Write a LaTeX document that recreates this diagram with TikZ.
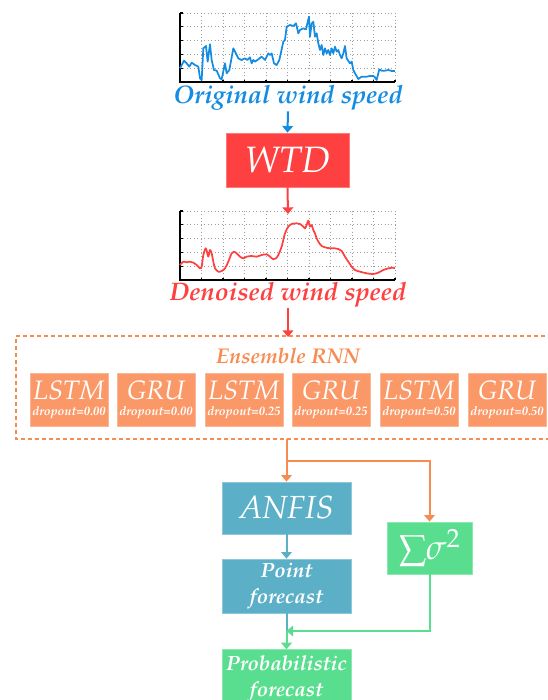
\documentclass[tikz,border=0pt]{standalone}
\usepackage[T1]{fontenc}
\usepackage{mathpazo}
\usepackage{tikz}
\usetikzlibrary{arrows.meta}

\definecolor{windblue}{RGB}{20,140,225}
\definecolor{wtdred}{RGB}{255,64,64}
\definecolor{ensorange}{RGB}{247,140,82}
\definecolor{rnnorange}{RGB}{250,152,104}
\definecolor{anfisblue}{RGB}{91,176,200}
\definecolor{probgreen}{RGB}{88,222,142}

\tikzset{
  gridline/.style={draw=gray!75, dotted, line width=0.6pt},
  axisline/.style={draw=black, line width=0.8pt},
  windcurve/.style={line width=1.3pt, line join=round},
  flowline/.style={line width=1.5pt},
  flowarrow/.style={flowline, -{Triangle[width=8pt,length=5pt]}},
  captiontext/.style={font=\fontsize{19}{22}\selectfont\bfseries\itshape, inner sep=1pt, anchor=base},
  blockbox/.style={draw=#1!70!white, fill=#1, line width=0.5pt, text=white, inner sep=0pt, align=center},
}

\begin{document}
\begin{tikzpicture}[x=0.75pt,y=0.75pt,yscale=-1,xscale=1]
\useasboundingbox (0,0) rectangle (547,700);

%Charts: grid and axes
\foreach \cy in {13,211} {
  \foreach \gx in {1,...,10} \draw[gridline] (180+\gx*21.5,\cy) -- (180+\gx*21.5,\cy+69);
  \foreach \gy in {0,...,4} \draw[gridline] (180,\cy+\gy*13.8) -- (395,\cy+\gy*13.8);
  \draw[axisline] (180,\cy) -- (180,\cy+69) -- (395,\cy+69);
  \foreach \gy in {0,...,4} \draw[axisline] (180,\cy+\gy*13.8) -- (182.5,\cy+\gy*13.8);
  \foreach \gx in {0,...,10} \draw[axisline] (180+\gx*21.5,\cy+69) -- (180+\gx*21.5,\cy+66.5);
}

%Curve: original wind speed
\begin{scope}[shift={(170,0)},scale=0.3333]
\draw[windcurve, windblue] plot coordinates {(30,205) (42,182) (50,190) (58,200) (65,188) (75,195) (85,200) (90,235) (95,240) (100,145) (108,138) (113,185) (120,133) (125,180) (132,210) (140,212) (150,235) (155,238) (165,190) (170,220) (178,210) (190,145) (200,165) (205,175) (215,180) (225,175) (232,180) (240,172) (245,190) (250,180) (255,185) (265,178) (275,170) (285,180) (295,160) (300,165) (305,160) (312,190) (320,195) (328,180) (340,125) (345,120) (350,80) (360,75) (370,78) (378,70) (385,100) (390,90) (400,85) (408,88) (417,50) (420,110) (425,70) (430,65) (435,110) (440,100) (445,130) (450,150) (455,135) (460,165) (465,145) (470,160) (475,150) (480,165) (485,145) (490,160) (495,140) (500,155) (505,150) (510,165) (515,175) (520,160) (525,138) (530,175) (540,190) (545,185) (550,210) (555,220) (565,237) (575,230) (590,230) (600,228) (610,228) (615,232) (620,240) (628,208) (635,212) (645,212) (655,210) (665,213) (675,213)};
\end{scope}

%Curve: denoised wind speed
\begin{scope}[shift={(170,200)},scale=0.3333]
\draw[windcurve, wtdred] plot[smooth, tension=0.5] coordinates {(30,195) (40,185) (50,187) (60,185) (70,188) (80,195) (90,205) (95,200) (100,165) (107,145) (112,160) (115,170) (120,150) (125,160) (130,185) (135,205) (145,215) (155,213) (165,205) (175,185) (185,160) (192,155) (200,160) (210,170) (220,175) (230,170) (245,168) (260,170) (275,165) (290,163) (300,170) (310,178) (318,175) (325,165) (335,140) (345,100) (355,80) (365,72) (380,70) (390,72) (400,80) (405,85) (410,75) (415,62) (420,80) (425,75) (430,90) (435,100) (440,115) (445,125) (455,138) (465,142) (480,145) (495,145) (505,147) (515,153) (525,170) (535,185) (545,200) (555,210) (570,215) (590,220) (610,222) (625,218) (640,210) (655,205) (670,203) (675,205)};
\end{scope}

% Text Node
\node[captiontext, text=windblue] (origtxt) at (288,103) {Original wind speed};
% Text Node
\node[captiontext, text=wtdred] (dentxt) at (288,300) {Denoised wind speed};

%Shape: Rectangle
\node[blockbox=wtdred, minimum width=92.25pt, minimum height=40.5pt, font=\fontsize{27.5}{30}\selectfont\itshape] (wtd) at (287.5,160) {WTD};

\coordinate (dentop) at (288,214);
\coordinate (enstop) at (288,337);
\coordinate (ensbot) at (286.5,439);
\coordinate (split) at (286.5,461);
\coordinate (join) at (286.5,631);

%Dashed frame: ensemble RNN
\draw[ensorange, line width=1.5pt, dash pattern=on 3pt off 2.25pt] (552,336) -- (16,336) -- (16,439) -- (552,439);
% Text Node
\node[font=\fontsize{16}{18}\selectfont\bfseries\itshape, text=ensorange, inner sep=1pt, anchor=base] (enstxt) at (288,363) {Ensemble RNN};

%RNN members
\foreach \i/\cx/\net/\rate in {1/69/LSTM/0.00, 2/156/GRU/0.00, 3/244/LSTM/0.25, 4/331/GRU/0.25, 5/419/LSTM/0.50, 6/507/GRU/0.50} {
  \node[blockbox=rnnorange, minimum width=58.5pt, minimum height=39.75pt] (rnn\i) at (\cx,399.5) {};
  \node[text=white, anchor=base, inner sep=0pt, font=\fontsize{20}{22}\selectfont\itshape] (net\i) at (\cx,399) {\net};
  \node[text=white, anchor=base, inner sep=0pt, font=\fontsize{9.3}{10}\selectfont\bfseries\itshape] (rate\i) at (\cx,415) {dropout=\rate};
}

%Shape: Rectangle
\node[blockbox=anfisblue, minimum width=96.75pt, minimum height=39pt, font=\fontsize{24}{26}\selectfont\itshape] (anfis) at (286.5,508) {ANFIS};
%Shape: Rectangle
\node[blockbox=anfisblue, minimum width=96.75pt, minimum height=40.5pt, font=\fontsize{15.5}{19}\selectfont\bfseries\itshape] (point) at (286.5,586) {Point\\forecast};
%Shape: Rectangle
\node[blockbox=probgreen, minimum width=63.75pt, minimum height=39pt, font=\fontsize{26}{28}\selectfont] (sigma) at (429.5,548) {${\sum}\sigma^2$};
%Shape: Rectangle
\node[blockbox=probgreen, minimum width=96.75pt, minimum height=44pt, font=\fontsize{15.5}{19}\selectfont\bfseries\itshape] (prob) at (286.5,679) {Probabilistic\\forecast};

%Connectors
\draw[flowarrow, windblue] (origtxt.south) -- (wtd.north);
\draw[flowarrow, wtdred] (wtd.south) -- (dentop);
\draw[flowarrow, wtdred] (dentxt.south) -- (enstop);
\draw[flowarrow, ensorange] (ensbot) -- (anfis.north);
\draw[flowarrow, ensorange] (split) -| (sigma.north);
\draw[flowarrow, anfisblue] (anfis.south) -- (point.north);
\draw[flowline, anfisblue] (point.south) -- (join);
\draw[flowarrow, probgreen] (sigma.south) |- (join);
\draw[flowarrow, probgreen] (join) -- (prob.north);
\end{tikzpicture}
\end{document}
